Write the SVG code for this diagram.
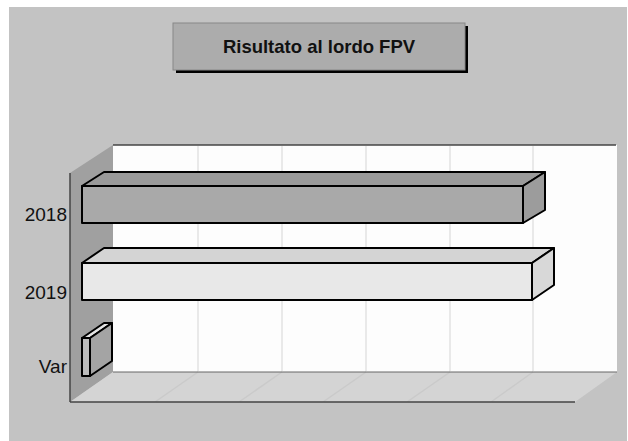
<svg xmlns="http://www.w3.org/2000/svg" width="628" height="441" viewBox="0 0 628 441">
<style>
.lbl{font-family:"Liberation Sans",Arial,sans-serif;font-size:19px;fill:#111}
.ttl{font-family:"Liberation Sans",Arial,sans-serif;font-size:18.5px;font-weight:bold;fill:#111}
.bar{stroke:#000;stroke-width:2;stroke-linejoin:round}
.grid{stroke:#e2e2e2;stroke-width:1.5}
</style>
<rect x="0" y="0" width="628" height="441" fill="#fff"/>
<rect x="9" y="7" width="618" height="434" fill="#c3c3c3"/>
<g id="title">
<rect x="176" y="26" width="292" height="47" fill="#000"/>
<rect x="173" y="23" width="292" height="47" fill="#acacac" stroke="#888" stroke-width="1"/>
<text x="319" y="53" text-anchor="middle" class="ttl">Risultato al lordo FPV</text>
</g>
<g id="axes">
<rect x="113" y="145" width="504" height="227" fill="#fdfdfd"/>
<polygon points="70,173 113,145 113,372 70,402" fill="#a0a0a0"/>
<polygon points="70,402 575,402 617,372 113,372" fill="#d4d4d4"/>
<g class="grid">
<line x1="198" y1="146" x2="198" y2="371"/>
<line x1="282" y1="146" x2="282" y2="371"/>
<line x1="366" y1="146" x2="366" y2="371"/>
<line x1="450" y1="146" x2="450" y2="371"/>
<line x1="533" y1="146" x2="533" y2="371"/>
<line x1="198" y1="372" x2="155" y2="402" stroke="#cacaca"/>
<line x1="282" y1="372" x2="239" y2="402" stroke="#cacaca"/>
<line x1="366" y1="372" x2="323" y2="402" stroke="#cacaca"/>
<line x1="450" y1="372" x2="407" y2="402" stroke="#cacaca"/>
<line x1="533" y1="372" x2="491" y2="402" stroke="#cacaca"/>
</g>
<line x1="113" y1="145" x2="616" y2="145" stroke="#444" stroke-width="1.5"/>
<line x1="113" y1="372" x2="617" y2="372" stroke="#666" stroke-width="1"/>
<line x1="70" y1="402" x2="575" y2="402" stroke="#444" stroke-width="1.5"/>
<line x1="70" y1="173" x2="70" y2="402" stroke="#444" stroke-width="1.5"/>
</g>
<g id="bar-2018">
<polygon class="bar" points="82,186 104,172 545,172 523,186" fill="#9a9a9a"/>
<polygon class="bar" points="523,186 545,172 545,210 523,223" fill="#9c9c9c"/>
<rect class="bar" x="82" y="186" width="441" height="37" fill="#a9a9a9"/>
<text x="67" y="221" text-anchor="end" class="lbl">2018</text>
</g>
<g id="bar-2019">
<polygon class="bar" points="82,263 104,248 554,248 532,263" fill="#d4d4d4"/>
<polygon class="bar" points="532,263 554,248 554,285 532,300" fill="#d8d8d8"/>
<rect class="bar" x="82" y="263" width="450" height="37" fill="#e8e8e8"/>
<text x="67" y="299" text-anchor="end" class="lbl">2019</text>
</g>
<g id="bar-var">
<polygon class="bar" points="82,338 104,323 112,323 90,338" fill="#e4e4e4"/>
<polygon class="bar" points="90,338 112,323 112,361 90,376" fill="#a4a4a4"/>
<rect class="bar" x="82" y="338" width="8" height="38" fill="#bcbcbc"/>
<text x="67" y="373" text-anchor="end" class="lbl">Var</text>
</g>
</svg>
